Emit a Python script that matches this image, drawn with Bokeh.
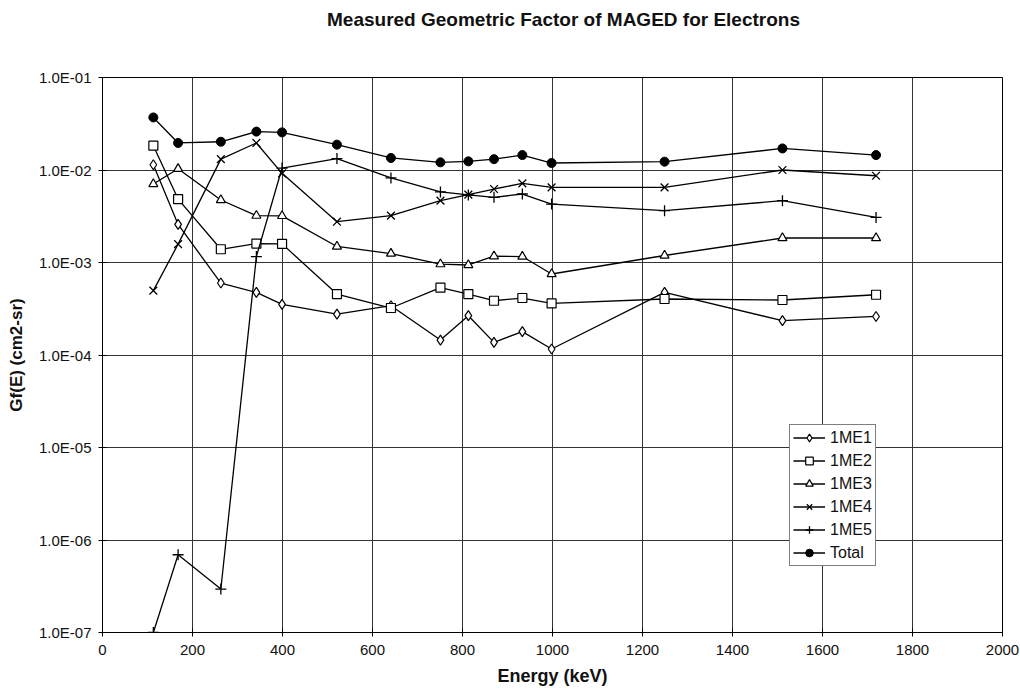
from bokeh.plotting import figure
from bokeh.models import (FixedTicker, CustomJSTickFormatter, Range1d, Legend, LegendItem)
from bokeh.embed import file_html
from bokeh.resources import INLINE

# ---- data ----
energy = [113, 168, 263, 342, 399, 521, 641, 751, 813, 870, 933, 998, 1249, 1511, 1719]
me1 = [1.14e-2, 2.58e-3, 6.0e-4, 4.75e-4, 3.52e-4, 2.77e-4, 3.41e-4, 1.45e-4, 2.66e-4,
       1.37e-4, 1.79e-4, 1.16e-4, 4.75e-4, 2.35e-4, 2.61e-4]
me2 = [1.83e-2, 4.85e-3, 1.39e-3, 1.6e-3, 1.59e-3, 4.56e-4, 3.22e-4, 5.35e-4, 4.56e-4,
       3.86e-4, 4.13e-4, 3.61e-4, 4.03e-4, 3.93e-4, 4.48e-4]
me3 = [7.06e-3, 1.03e-2, 4.74e-3, 3.21e-3, 3.19e-3, 1.49e-3, 1.25e-3, 9.6e-4, 9.4e-4,
       1.17e-3, 1.16e-3, 7.51e-4, 1.19e-3, 1.84e-3, 1.84e-3]
me4 = [4.96e-4, 1.58e-3, 1.31e-2, 1.96e-2, 9.2e-3, 2.76e-3, 3.21e-3, 4.66e-3, 5.41e-3,
       6.23e-3, 7.17e-3, 6.49e-3, 6.49e-3, 1.0e-2, 8.67e-3]
me5 = [1.0e-7, 6.93e-7, 2.95e-7, 1.16e-3, 1.05e-2, 1.33e-2, 8.2e-3, 5.8e-3, 5.37e-3,
       5.06e-3, 5.5e-3, 4.28e-3, 3.63e-3, 4.66e-3, 3.07e-3]
total = [3.7e-2, 1.96e-2, 2.02e-2, 2.6e-2, 2.55e-2, 1.88e-2, 1.35e-2, 1.21e-2, 1.24e-2,
         1.31e-2, 1.45e-2, 1.19e-2, 1.23e-2, 1.71e-2, 1.45e-2]

series_names = ["1ME1", "1ME2", "1ME3", "1ME4", "1ME5", "Total"]
series_values = [me1, me2, me3, me4, me5, total]
series_markers = ["diamond", "square", "triangle", "x", "cross", "circle"]

x_ticks = [0, 200, 400, 600, 800, 1000, 1200, 1400, 1600, 1800, 2000]
y_ticks = [1e-7, 1e-6, 1e-5, 1e-4, 1e-3, 1e-2, 1e-1]

title_text = "Measured Geometric Factor of MAGED for Electrons"
x_title = "Energy (keV)"
y_title = "Gf(E) (cm2-sr)"

FONT = "Liberation Sans"

p = figure(width=1020, height=700, output_backend="svg", toolbar_location=None,
           y_axis_type="log", x_range=Range1d(0, 2000), y_range=Range1d(1e-7, 1e-1),
           min_border_left=102, min_border_right=18, min_border_top=77, min_border_bottom=68)

p.title.text = title_text
p.title.text_font = FONT
p.title.text_font_size = "19px"
p.title.text_font_style = "bold"
p.title.text_color = "#111111"
p.title.align = "center"
p.title.vertical_align = "top"
p.title.standoff = 0
p.title.padding = dict(left=22, right=0, top=5, bottom=46)

p.outline_line_color = "black"
p.outline_line_width = 1
p.background_fill_color = "white"
p.border_fill_color = "white"

p.xaxis.ticker = FixedTicker(ticks=x_ticks)
p.yaxis.ticker = FixedTicker(ticks=y_ticks)
p.yaxis.formatter = CustomJSTickFormatter(code="""
const e = Math.round(Math.log10(tick));
const a = Math.abs(e);
return '1.0E' + (e < 0 ? '-' : '+') + (a < 10 ? '0' : '') + a;
""")
for ax in (p.xaxis, p.yaxis):
    ax.axis_line_color = "black"
    ax.major_tick_line_color = "black"
    ax.major_tick_in = 4
    ax.major_tick_out = 4
    ax.minor_tick_line_color = None
    ax.major_label_text_font = FONT
    ax.major_label_text_font_size = "15px"
    ax.major_label_text_color = "#111111"
    ax.axis_label_text_font = FONT
    ax.axis_label_text_font_style = "bold"
    ax.axis_label_text_color = "#111111"
p.xaxis.axis_label = x_title
p.yaxis.axis_label = y_title
p.xaxis.axis_label_text_font_size = "18px"
p.yaxis.axis_label_text_font_size = "17px"
p.xaxis.major_label_standoff = 8
p.yaxis.major_label_standoff = 7
p.xaxis.axis_label_standoff = 8
p.yaxis.axis_label_standoff = 10

p.xgrid.grid_line_color = "#333333"
p.ygrid.grid_line_color = "#333333"
p.xgrid.grid_line_width = 1
p.ygrid.grid_line_width = 1

items = []
for name, vals, mk in zip(series_names, series_values, series_markers):
    r1 = p.line(energy, vals, line_color="black", line_width=1.3)
    if mk == "circle":
        r2 = p.scatter(energy, vals, marker=mk, size=9, line_color="black", fill_color="black")
    elif mk in ("x", "cross"):
        r2 = p.scatter(energy, vals, marker=mk, size=11, line_color="black", line_width=1.3)
    elif mk == "diamond":
        r2 = p.scatter(energy, vals, marker=mk, size=10, line_color="black", fill_color="white", line_width=1.2)
    else:
        r2 = p.scatter(energy, vals, marker=mk, size=9, line_color="black", fill_color="white", line_width=1.2)
    items.append(LegendItem(label=name, renderers=[r1, r2]))

legend = Legend(items=items, location=(687, 66))
legend.label_text_font = FONT
legend.label_text_font_size = "16px"
legend.label_text_color = "#111111"
legend.glyph_width = 32
legend.glyph_height = 19
legend.label_height = 19
legend.label_standoff = 5
legend.spacing = 4
legend.padding = 3
legend.margin = 0
legend.border_line_color = "black"
legend.border_line_width = 1
legend.background_fill_color = "white"
legend.background_fill_alpha = 1
p.add_layout(legend, "center")

open("out.html", "w").write(file_html(p, INLINE))
